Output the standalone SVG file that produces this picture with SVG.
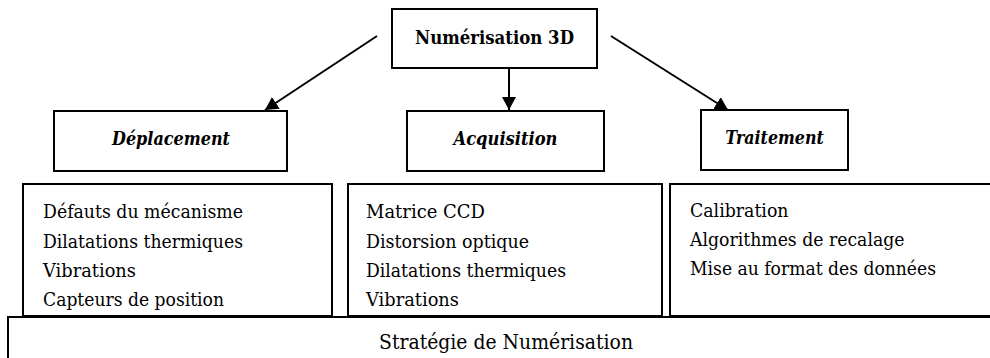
<svg xmlns="http://www.w3.org/2000/svg" width="990" height="358" viewBox="0 0 990 358">
<style>
.box{fill:#fff;stroke:#000;stroke-width:2}
.title{font-size:19px;font-weight:bold;text-anchor:middle}
.head{font-size:18.5px;font-weight:bold;font-style:italic;text-anchor:middle}
.body{font-size:19px}
.big{font-size:21px;text-anchor:middle}
.conn{stroke:#000;stroke-width:2;fill:none;marker-end:url(#ah)}
</style>
<defs>
<marker id="ah" markerUnits="userSpaceOnUse" markerWidth="14" markerHeight="14" refX="13" refY="7" orient="auto">
<path d="M0,0 L13,7 L0,14 z" fill="#000"/>
</marker>
</defs>
<rect width="990" height="358" fill="#fff"/>
<g id="connectors">
<line class="conn" x1="377" y1="36" x2="265" y2="110"/>
<line class="conn" x1="509" y1="65" x2="509" y2="110"/>
<line class="conn" x1="611" y1="36" x2="728" y2="110"/>
</g>
<g font-family="DejaVu Serif, serif" fill="#000">
<g id="numerisation3d">
<rect class="box" x="392" y="9" width="205" height="59"/>
<text class="title" x="494.5" y="44" textLength="159" lengthAdjust="spacingAndGlyphs">Numérisation 3D</text>
</g>
<g id="deplacement">
<rect class="box" x="54" y="111" width="233" height="60"/>
<text class="head" x="171" y="145" textLength="118" lengthAdjust="spacingAndGlyphs">Déplacement</text>
</g>
<g id="acquisition">
<rect class="box" x="407" y="111" width="197" height="60"/>
<text class="head" x="505.5" y="145" textLength="104" lengthAdjust="spacingAndGlyphs">Acquisition</text>
</g>
<g id="traitement">
<rect class="box" x="701" y="110" width="147" height="60"/>
<text class="head" x="774.5" y="144" textLength="98.5" lengthAdjust="spacingAndGlyphs">Traitement</text>
</g>
<g id="deplacement-details">
<rect class="box" x="23" y="184" width="309" height="132"/>
<text class="body" x="43" y="218" textLength="200" lengthAdjust="spacingAndGlyphs">Défauts du mécanisme</text>
<text class="body" x="43" y="248" textLength="200" lengthAdjust="spacingAndGlyphs">Dilatations thermiques</text>
<text class="body" x="43" y="277" textLength="93" lengthAdjust="spacingAndGlyphs">Vibrations</text>
<text class="body" x="43" y="306" textLength="181" lengthAdjust="spacingAndGlyphs">Capteurs de position</text>
</g>
<g id="acquisition-details">
<rect class="box" x="348" y="184" width="314" height="132"/>
<text class="body" x="366" y="218" textLength="119" lengthAdjust="spacingAndGlyphs">Matrice CCD</text>
<text class="body" x="366" y="248" textLength="163" lengthAdjust="spacingAndGlyphs">Distorsion optique</text>
<text class="body" x="366" y="277" textLength="200" lengthAdjust="spacingAndGlyphs">Dilatations thermiques</text>
<text class="body" x="366" y="306" textLength="93" lengthAdjust="spacingAndGlyphs">Vibrations</text>
</g>
<g id="traitement-details">
<rect class="box" x="670" y="184" width="340" height="132"/>
<text class="body" x="690" y="217" textLength="98.5" lengthAdjust="spacingAndGlyphs">Calibration</text>
<text class="body" x="690" y="246" textLength="214.5" lengthAdjust="spacingAndGlyphs">Algorithmes de recalage</text>
<text class="body" x="690" y="275" textLength="246" lengthAdjust="spacingAndGlyphs">Mise au format des données</text>
</g>
<g id="strategie">
<rect class="box" x="8" y="317" width="1010" height="60"/>
<text class="big" x="506" y="349" textLength="254" lengthAdjust="spacingAndGlyphs">Stratégie de Numérisation</text>
</g>
</g>
</svg>
